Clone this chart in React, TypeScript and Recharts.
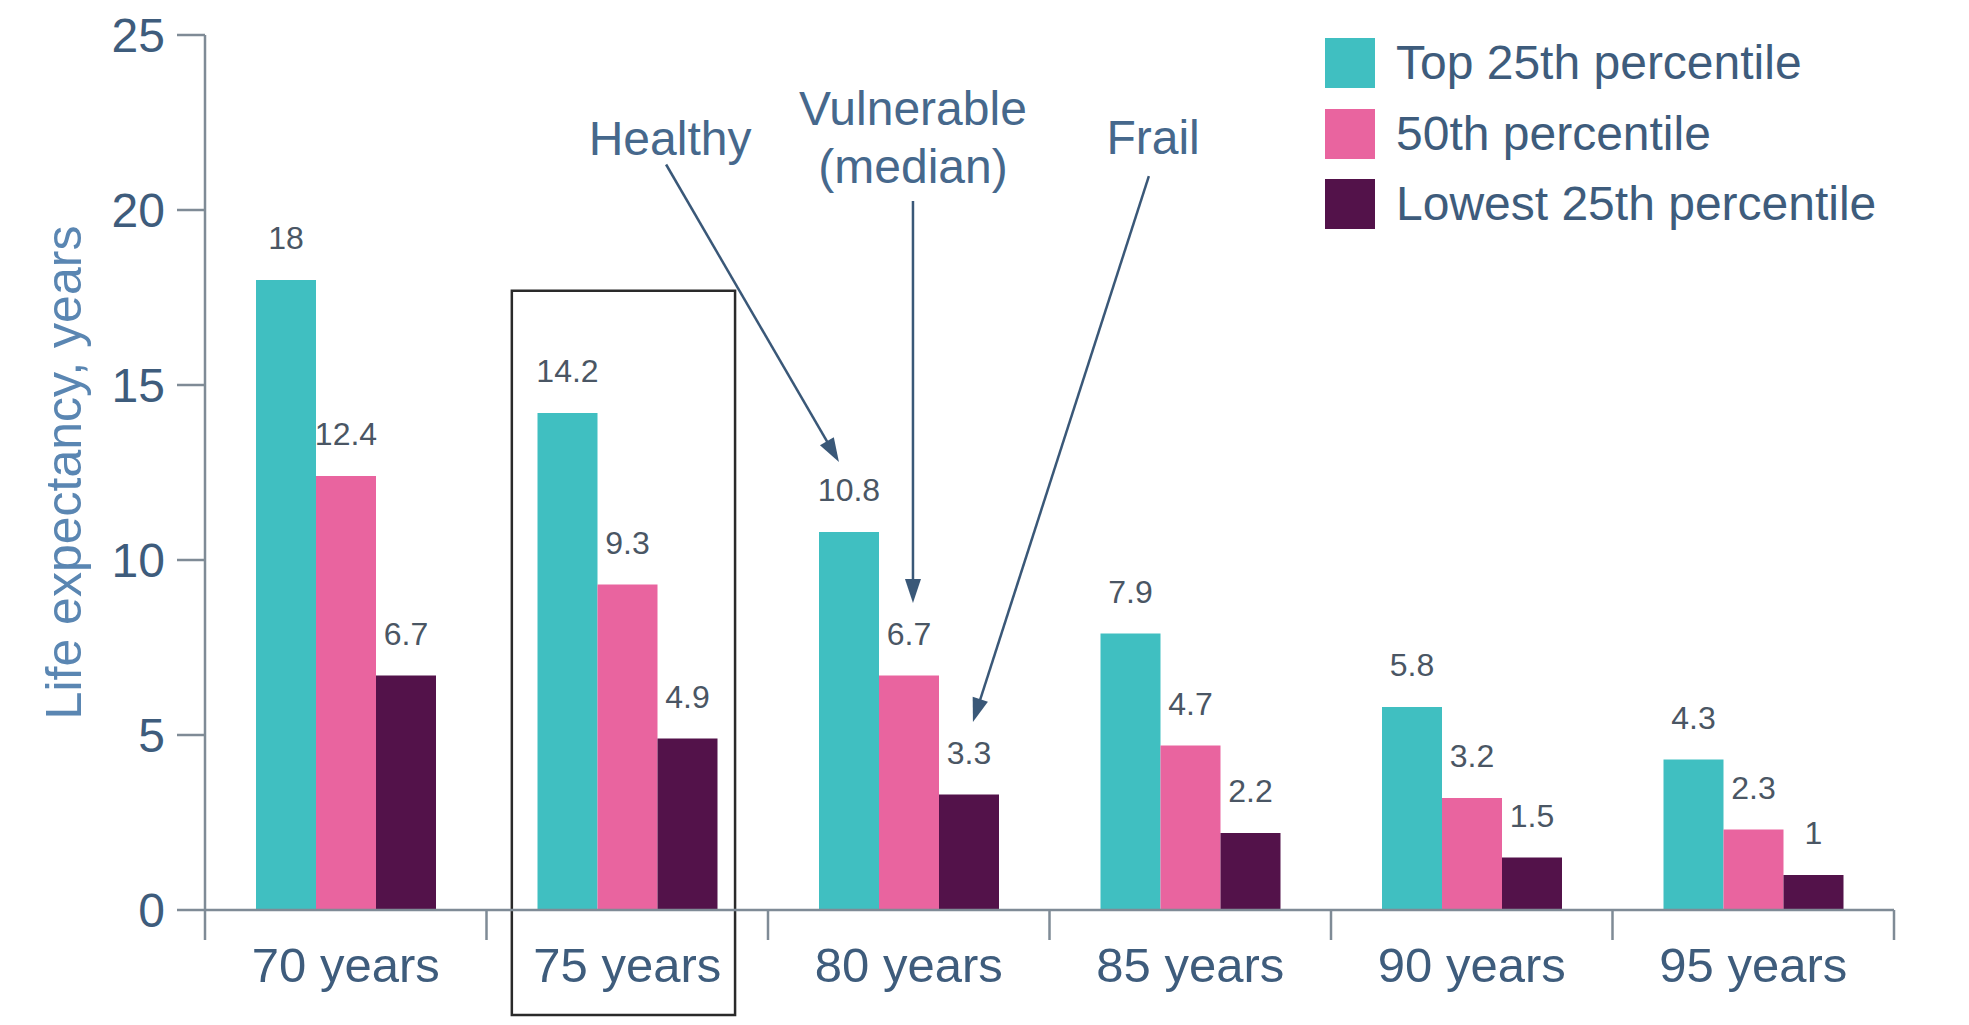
import React from 'react';
import {
  BarChart,
  Bar,
  XAxis,
  YAxis,
  LabelList,
  Legend,
  ReferenceArea,
  ReferenceLine,
  ReferenceDot,
} from 'recharts';

// ---- data ----
const categories = ['70 years', '75 years', '80 years', '85 years', '90 years', '95 years'];
const top25 = [18, 14.2, 10.8, 7.9, 5.8, 4.3];
const p50 = [12.4, 9.3, 6.7, 4.7, 3.2, 2.3];
const low25 = [6.7, 4.9, 3.3, 2.2, 1.5, 1];
const yTicks = [0, 5, 10, 15, 20, 25];
const seriesKeys = ['top', 'mid', 'low'];
const seriesNames = ['Top 25th percentile', '50th percentile', 'Lowest 25th percentile'];
const seriesColors = ['#40bfc1', '#e9649f', '#53124a'];
const yLabel = 'Life expectancy, years';

// annotations, in (category units 0..6, years)
const noteTexts = [['Healthy'], ['Vulnerable', '(median)'], ['Frail']];
const noteX = [1.652, 2.515, 3.368];
const noteY = [22.06, 22.09, 22.1];
const arrowFrom = [
  [1.638, 21.3],
  [2.515, 20.26],
  [3.353, 20.97],
];
const arrowTo = [
  [2.252, 12.8],
  [2.515, 8.77],
  [2.728, 5.37],
];
const boxX = [1.09, 1.883];
const boxY = [-3, 17.69];

// slot = category centre on a continuous 0..6 scale (for annotations)
const data = categories.map((c, i) => ({ age: c, slot: i + 0.5, top: top25[i], mid: p50[i], low: low25[i] }));

const TEXT = '#3e5c7c';
const AXIS = '#7f8b96';
const FONT = '"Liberation Sans", Arial, Helvetica, sans-serif';

const XTick = (props: any) => {
  const { x, y, payload, index, visibleTicksCount, width } = props;
  const half =
    payload && typeof payload.offset === 'number' && payload.offset > 0
      ? payload.offset
      : width / visibleTicksCount / 2;
  const last = index === visibleTicksCount - 1;
  return (
    <g>
      <line x1={x - half} x2={x - half} y1={y} y2={y + 30} stroke={AXIS} strokeWidth={2.5} />
      {last && <line x1={x + half} x2={x + half} y1={y} y2={y + 30} stroke={AXIS} strokeWidth={2.5} />}
      <text x={x} y={y + 72} textAnchor="middle" fontSize={49} fill={TEXT}>
        {payload.value}
      </text>
    </g>
  );
};

const YLabel = (props: any) => {
  const vb = props.viewBox || { x: 0, y: 35, width: 205, height: 875 };
  const cx = vb.x + 81;
  const cy = vb.y + vb.height / 2;
  return (
    <text
      x={cx}
      y={cy}
      transform={`rotate(-90, ${cx}, ${cy})`}
      textAnchor="middle"
      fontSize={50}
      fill="#5a86b2"
    >
      {yLabel}
    </text>
  );
};

const ArrowShape = (props: any) => {
  const { x1, y1, x2, y2 } = props;
  const ang = Math.atan2(y2 - y1, x2 - x1);
  const L = 24;
  const W = 8;
  const bx = x2 - L * Math.cos(ang);
  const by = y2 - L * Math.sin(ang);
  const p1x = bx + W * Math.sin(ang);
  const p1y = by - W * Math.cos(ang);
  const p2x = bx - W * Math.sin(ang);
  const p2y = by + W * Math.cos(ang);
  return (
    <g>
      <line x1={x1} y1={y1} x2={bx + 4 * Math.cos(ang)} y2={by + 4 * Math.sin(ang)} stroke="#3a5878" strokeWidth={2.5} />
      <polygon points={`${x2},${y2} ${p1x},${p1y} ${p2x},${p2y}`} fill="#3a5878" />
    </g>
  );
};

const makeNote = (lines: string[]) => (props: any) => {
  const { cx, cy } = props;
  const lh = 58;
  const start = cy - ((lines.length - 1) * lh) / 2;
  return (
    <g>
      {lines.map((t, i) => (
        <text key={i} x={cx} y={start + i * lh} dy="0.36em" textAnchor="middle" fontSize={48} fill="#46688c">
          {t}
        </text>
      ))}
    </g>
  );
};

const LegendContent = (props: any) => {
  const payload = [...(props.payload || [])].sort(
    (a: any, b: any) => seriesNames.indexOf(a.value) - seriesNames.indexOf(b.value)
  );
  return (
    <div style={{ fontFamily: FONT }}>
      {payload.map((p: any, i: number) => (
        <div key={i} style={{ display: 'flex', alignItems: 'center', height: 70.5 }}>
          <div style={{ width: 50, height: 50, background: p.color, marginRight: 21 }} />
          <span style={{ fontSize: 48, color: TEXT, whiteSpace: 'nowrap', lineHeight: '50px' }}>{p.value}</span>
        </div>
      ))}
    </div>
  );
};

export default function App() {
  return (
    <div style={{ position: 'absolute', left: 0, top: 0, width: 1969, height: 1025, background: '#ffffff' }}>
      <BarChart
        width={1969}
        height={1025}
        data={data}
        margin={{ top: 35, right: 75, bottom: 15, left: 0 }}
        barGap={0}
        style={{ fontFamily: FONT }}
      >
        <XAxis
          dataKey="age"
          height={100}
          tickSize={0}
          tickMargin={0}
          tickLine={false}
          axisLine={{ stroke: AXIS, strokeWidth: 2.5 }}
          tick={<XTick />}
          interval={0}
        />
        <XAxis xAxisId="num" dataKey="slot" type="number" domain={[0, 6]} hide allowDataOverflow />
        <YAxis
          width={205}
          domain={[0, 25]}
          ticks={yTicks}
          interval={0}
          tickSize={28}
          tickMargin={12}
          axisLine={{ stroke: AXIS, strokeWidth: 2.5 }}
          tickLine={{ stroke: AXIS, strokeWidth: 2.5 }}
          tick={{ fontSize: 48, fill: TEXT }}
          label={<YLabel />}
        />
        <Legend
          layout="horizontal"
          verticalAlign="middle"
          align="center"
          content={<LegendContent />}
          wrapperStyle={{ position: 'absolute', left: 1325, top: 28, width: 640, height: 215 }}
        />
        {seriesKeys.map((k, i) => (
          <Bar key={k} dataKey={k} name={seriesNames[i]} fill={seriesColors[i]} barSize={60} isAnimationActive={false}>
            <LabelList dataKey={k} position="top" offset={31} fill="#4a5664" fontSize={32} />
          </Bar>
        ))}
        <ReferenceArea
          xAxisId="num"
          x1={boxX[0]}
          x2={boxX[1]}
          y1={boxY[0]}
          y2={boxY[1]}
          ifOverflow="visible"
          fill="none"
          fillOpacity={0}
          stroke="#2a2a2a"
          strokeWidth={2.5}
        />
        {arrowFrom.map((f, i) => (
          <ReferenceLine
            key={'a' + i}
            xAxisId="num"
            segment={[
              { x: f[0], y: f[1] },
              { x: arrowTo[i][0], y: arrowTo[i][1] },
            ]}
            ifOverflow="visible"
            shape={ArrowShape}
          />
        ))}
        {noteTexts.map((t, i) => (
          <ReferenceDot
            key={'n' + i}
            xAxisId="num"
            x={noteX[i]}
            y={noteY[i]}
            r={0}
            ifOverflow="visible"
            shape={makeNote(t)}
          />
        ))}
      </BarChart>
    </div>
  );
}
